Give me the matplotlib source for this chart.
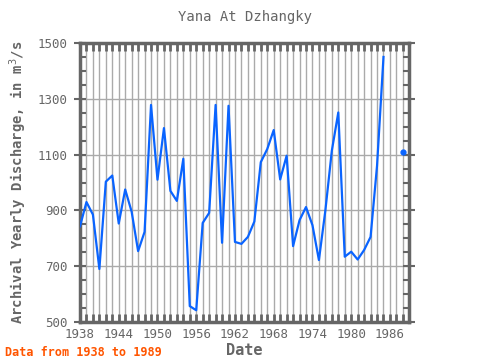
import numpy as np
import matplotlib
matplotlib.use("Agg")
import matplotlib.pyplot as plt
from matplotlib.ticker import MultipleLocator

years = list(range(1938, 1989))
values = [843, 930, 885, 690, 1003, 1025, 853, 975, 895, 754,
          823, 1278, 1010, 1195, 970, 934, 1085, 557, 542, 855,
          891, 1278, 784, 1275, 787, 780, 805, 860, 1073, 1120,
          1188, 1011, 1096, 772, 865, 912, 847, 722, 900, 1114,
          1251, 734, 752, 724, 758, 805, 1060, 1450, np.nan, np.nan,
          1108]
xtick_labels = [1938, 1944, 1950, 1956, 1962, 1968, 1974, 1980, 1986]
ytick_labels = [500, 700, 900, 1100, 1300, 1500]

title = "Yana At Dzhangky"
ylabel = "Archival Yearly Discharge, in m$^3$/s"
xlabel = "Date"
note = "Data from 1938 to 1989"

plt.rcParams['font.family'] = ['DejaVu Sans Mono']
fig = plt.figure(figsize=(4.8, 3.6), dpi=100)
ax = fig.add_axes([80/480, 1-322/360, 329/480, 279/360])

gray = '#666666'
line_color = '#0a64ff'

x = np.array(years, dtype=float)
y = np.array(values, dtype=float)
ax.plot(x, y, color=line_color, lw=1.6, zorder=3)
# isolated points (neighbours missing) shown as dots
iso = [i for i in range(len(y)) if not np.isnan(y[i])
       and (i == 0 or np.isnan(y[i-1])) and (i == len(y)-1 or np.isnan(y[i+1]))]
ax.plot(x[iso], y[iso], 'o', color=line_color, ms=3.5, zorder=3)

ax.set_xlim(1938, 1988.95)
ax.set_ylim(500, 1500)
ax.set_xticks(xtick_labels)
ax.set_xticklabels([str(v) for v in xtick_labels])
ax.xaxis.set_minor_locator(MultipleLocator(1))
ax.set_yticks(ytick_labels)
ax.set_yticklabels([str(v) for v in ytick_labels])
ax.yaxis.set_minor_locator(MultipleLocator(50))

ax.grid(True, which='major', axis='y', color='#aaaaaa', lw=1)
ax.grid(True, which='minor', axis='x', color='#aaaaaa', lw=1)
ax.grid(True, which='major', axis='x', color='#aaaaaa', lw=1)
ax.set_axisbelow(True)

for s in ax.spines.values():
    s.set_color(gray)
    s.set_linewidth(2.5)

ax.tick_params(axis='x', which='both', direction='in', top=True, bottom=True,
               length=6, width=2, color=gray, labelcolor=gray, labelsize=9, pad=4)
ax.tick_params(axis='y', which='minor', direction='in', left=True, right=True,
               length=4, width=1.5, color=gray)
ax.tick_params(axis='y', which='major', direction='inout', left=True, right=True,
               length=8, width=1.5, color=gray, labelcolor=gray, labelsize=9, pad=5)

fig.text(245/480, 1-17/360, title, ha='center', va='center', fontsize=10, color=gray)
ax.set_xlabel(xlabel, fontsize=11, color=gray, fontweight='bold', labelpad=2)
ax.set_ylabel(ylabel, fontsize=10, color=gray, fontweight='bold', labelpad=6)
fig.text(5/480, 1-352/360, note, ha='left', va='center', fontsize=8.5,
         color='#ff5500', fontweight='bold')

fig.savefig('out.png', dpi=100, facecolor='white')
